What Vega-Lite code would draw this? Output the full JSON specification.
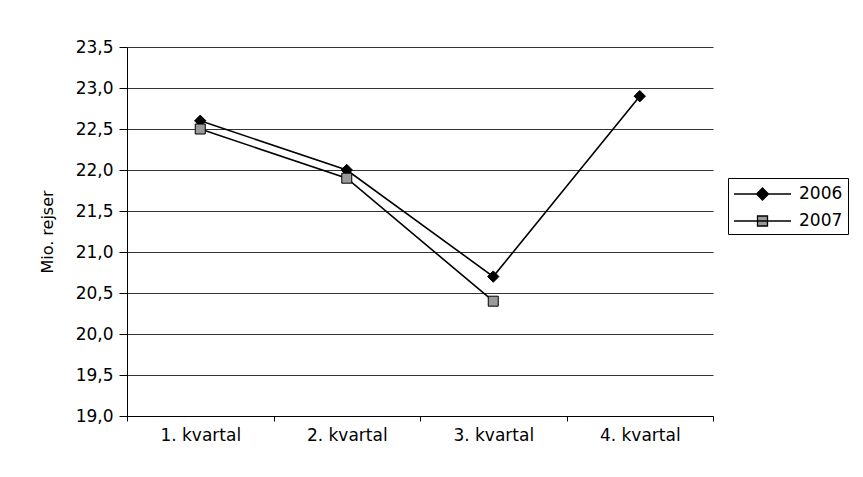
{
  "$schema": "https://vega.github.io/schema/vega-lite/v6.json",
  "autosize": {"type": "none"},
  "width": 586,
  "height": 369,
  "padding": {"left": 127, "top": 47, "right": 150, "bottom": 61},
  "background": "white",
  "data": {
    "values": [
      {"kvartal": "1. kvartal", "year": "2006", "value": 22.6},
      {"kvartal": "2. kvartal", "year": "2006", "value": 22.0},
      {"kvartal": "3. kvartal", "year": "2006", "value": 20.7},
      {"kvartal": "4. kvartal", "year": "2006", "value": 22.9},
      {"kvartal": "1. kvartal", "year": "2007", "value": 22.5},
      {"kvartal": "2. kvartal", "year": "2007", "value": 21.9},
      {"kvartal": "3. kvartal", "year": "2007", "value": 20.4}
    ]
  },
  "config": {
    "view": {"stroke": null},
    "font": "DejaVu Sans",
    "axis": {"labelColor": "black", "titleColor": "black", "labelFont": "DejaVu Sans", "titleFont": "DejaVu Sans"},
    "legend": {"labelFont": "DejaVu Sans"}
  },
  "encoding": {
    "x": {
      "field": "kvartal",
      "type": "ordinal",
      "scale": {"type": "band", "paddingInner": 0, "paddingOuter": 0},
      "axis": {
        "title": null,
        "labelAngle": 0,
        "labelFontSize": 17,
        "labelPadding": 6,
        "tickSize": 5,
        "tickBand": "extent",
        "tickColor": "black",
        "domainColor": "black",
        "grid": false
      }
    },
    "y": {
      "field": "value",
      "type": "quantitative",
      "scale": {"domain": [19, 23.5], "nice": false, "zero": false},
      "axis": {
        "title": "Mio. rejser",
        "titleFontSize": 16,
        "titleFontWeight": "normal",
        "titlePadding": 20,
        "values": [19, 19.5, 20, 20.5, 21, 21.5, 22, 22.5, 23, 23.5],
        "labelExpr": "replace(format(datum.value, '.1f'), '.', ',')",
        "labelFontSize": 17,
        "labelPadding": 6,
        "tickSize": 8,
        "tickColor": "black",
        "domainColor": "black",
        "grid": true,
        "gridColor": "#333333",
        "gridWidth": 1,
        "gridOpacity": 1
      }
    }
  },
  "layer": [
    {
      "mark": {"type": "line", "strokeWidth": 1.6},
      "encoding": {
        "stroke": {
          "field": "year",
          "type": "nominal",
          "scale": {"domain": ["2006", "2007"], "range": ["black", "black"]},
          "legend": {
            "title": null,
            "orient": "none",
            "legendX": 601,
            "legendY": 131,
            "strokeColor": "black",
            "padding": 5,
            "labelFontSize": 17,
            "labelColor": "black",
            "rowPadding": 7,
            "symbolSize": 400,
            "symbolStrokeWidth": 1.5,
            "labelOffset": 44,
            "encode": {
              "symbols": {
                "update": {
                  "shape": {"signal": "datum.value == '2006' ? 'M-1,0L4.7,0M1.85,-0.6L2.45,0L1.85,0.6L1.25,0Z' : 'M-1,0L4.7,0M1.35,-0.5L2.35,-0.5L2.35,0.5L1.35,0.5Z'"},
                  "fill": {"signal": "datum.value == '2006' ? 'black' : '#9a9a9a'"},
                  "stroke": {"value": "black"},
                  "strokeWidth": {"value": 1.3}
                }
              }
            }
          }
        }
      }
    },
    {
      "mark": {"type": "point", "filled": true, "strokeWidth": 1, "opacity": 1, "stroke": "black"},
      "encoding": {
        "shape": {"condition": {"test": "datum.year == '2006'", "value": "diamond"}, "value": "square"},
        "fill": {"condition": {"test": "datum.year == '2006'", "value": "black"}, "value": "#9a9a9a"},
        "size": {"condition": {"test": "datum.year == '2006'", "value": 130}, "value": 100}
      }
    }
  ]
}
